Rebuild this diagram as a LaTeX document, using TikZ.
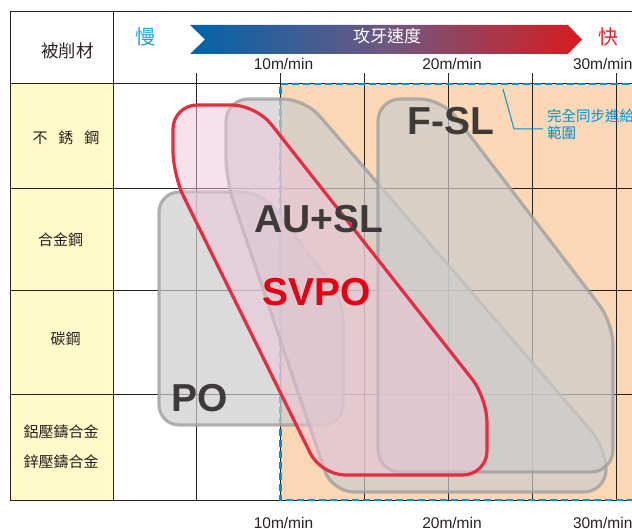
\documentclass[tikz,border=0pt]{standalone}
\usepackage{fontspec}
\setmainfont{Liberation Sans}
\newfontfamily\cjk{Noto Sans CJK TC}
\definecolor{rowyellow}{RGB}{255,250,200}
\definecolor{syncorange}{RGB}{250,216,182}
\definecolor{gridline}{RGB}{40,32,32}
\definecolor{syncblue}{RGB}{0,145,212}
\definecolor{slowblue}{RGB}{20,160,225}
\definecolor{fastred}{RGB}{228,30,40}
\definecolor{arrowblue}{RGB}{0,100,170}
\definecolor{arrowmid}{RGB}{110,88,130}
\definecolor{arrowred}{RGB}{215,28,30}
\definecolor{toolgray}{RGB}{204,204,204}
\definecolor{tooledge}{RGB}{160,160,160}
\definecolor{svpored}{RGB}{228,45,65}
\definecolor{svpopink}{RGB}{240,196,216}
\definecolor{labelgray}{RGB}{62,58,58}
\definecolor{svpotext}{RGB}{230,0,18}
\begin{document}
\begin{tikzpicture}[y=1pt, x=1pt, yscale=-1, inner sep=0pt, outer sep=0pt,
  gridrule/.style={draw=gridline, line width=1pt},
  syncrule/.style={draw=syncblue, line width=2.5pt, dash pattern=on 7pt off 4pt},
  toolzone/.style={fill=toolgray, fill opacity=0.7, draw=tooledge, draw opacity=0.8, line width=3.2pt},
  toolname/.style={font=\bfseries\fontsize{39}{39}\selectfont, text=labelgray},
  speedlabel/.style={font=\fontsize{15.5}{15.5}\selectfont, text=gridline, anchor=base},
  material/.style={font=\cjk\fontsize{15}{30}\selectfont, text=gridline, align=center}]
\useasboundingbox (0,0) rectangle (632,529);
\clip (0,0) rectangle (632,529);
\begin{scope}
  % table cells
  \path[fill=rowyellow] (10,84) rectangle (113,500);
  \path[fill=syncorange] (280,84) rectangle (640,500);
  \foreach \gx in {196,280,364,448,532,616}
    \draw[gridrule] (\gx,73) -- (\gx,500);
  \foreach \gy in {189,291,394}
    \draw[gridrule] (10,\gy) -- (640,\gy);
  \draw[gridrule] (640,12) -- (10,12) -- (10,500) -- (640,500);
  \draw[gridrule] (10,84) -- (640,84);
  \draw[gridrule] (113,12) -- (113,500);
  \draw[syncrule] (640,84) -- (280.5,84) -- (280.5,500) -- (640,500);
\end{scope}
\begin{scope}
  % speed arrow
  \shade[left color=arrowblue, right color=arrowred, middle color=arrowmid] (190,25) -- (568,25) -- (582,39.5) -- (568,54) -- (190,54) -- (205,39.5) -- cycle;
\end{scope}
\begin{scope}
  % tool ranges
  \path[toolzone, rounded corners=20pt] (159,192) -- (262,192) -- (343,300) -- (343,425) -- (159,425) -- cycle;
  \path[toolzone, rounded corners=22pt] (226,99) -- (305,99) -- (606,448) -- (606,492) -- (332,492) -- (226,180) -- cycle;
  \path[toolzone, rounded corners=22pt] (378,99) -- (442,99) -- (613,323) -- (613,472) -- (378,472) -- cycle;
  \path[fill=svpopink, fill opacity=0.5, draw=svpored, line width=3.2pt, rounded corners=24pt] (173,105) -- (256,105) -- (487,398) -- (487,475) -- (321,475) -- (173,175) -- cycle;
\end{scope}
\node[font=\cjk\fontsize{17.5}{17.5}\selectfont, text=gridline] (workpiece) at (67.5,50.5) {被削材};
\node[font=\cjk\fontsize{20}{20}\selectfont, text=slowblue] (slow) at (145,36.5) {慢};
\node[font=\cjk\fontsize{20}{20}\selectfont, text=fastred] (fast) at (608,36.5) {快};
\node[font=\cjk\fontsize{17}{17}\selectfont, text=white] (speedtitle) at (387,36.5) {攻牙速度};
\node[speedlabel] (top10) at (283.5,70) {10m/min};
\node[speedlabel] (top20) at (452,70) {20m/min};
\node[speedlabel, anchor=base west] (top30) at (573,70) {30m/min};
\node[speedlabel] (bot10) at (283.5,528.5) {10m/min};
\node[speedlabel] (bot20) at (452,528.5) {20m/min};
\node[speedlabel, anchor=base west] (bot30) at (573,528.5) {30m/min};
\node[material] (stainless) at (66,138) {不\hspace{11pt}銹\hspace{11pt}鋼};
\node[material] (alloy) at (60.5,240) {合金鋼};
\node[material] (carbon) at (65.5,339) {碳鋼};
\node[material] (diecast) at (61,447) {鋁壓鑄合金\\鋅壓鑄合金};
\node[toolname] (fsl) at (451,121.5) {F-SL};
\node[toolname] (ausl) at (318.5,219) {AU+SL};
\node[toolname, text=svpotext] (svpo) at (316.5,292) {SVPO};
\node[toolname] (po) at (199.5,398.5) {PO};
\node[font=\cjk\fontsize{14.5}{17}\selectfont, text=syncblue, align=left, anchor=west] (synctext) at (547,124.5) {完全同步進給\\範圍};
\coordinate (syncpin) at (503,89);
\coordinate (syncbend) at (514,129);
\draw[syncblue, line width=1pt, shorten >=4pt] (syncpin) -- (syncbend) -- (syncbend -| synctext.west);
\end{tikzpicture}
\end{document}
